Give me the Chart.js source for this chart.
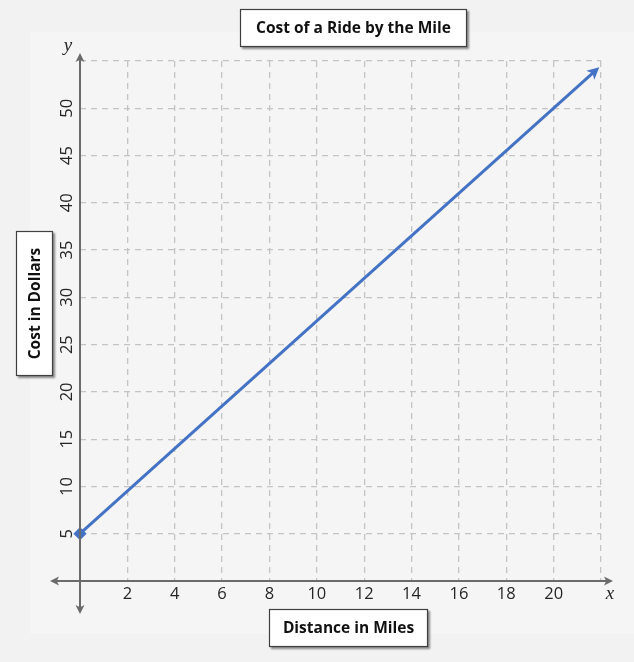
<!DOCTYPE html>
<html>
<head>
<meta charset="utf-8">
<title>Cost of a Ride by the Mile</title>
<script src="https://cdn.jsdelivr.net/npm/chart.js@4.4.0/dist/chart.umd.min.js"></script>
<style>
  body { margin: 0; background: #f2f2f2; }
  canvas { display: block; }
</style>
</head>
<body>
<canvas id="ridechart" width="634" height="662"></canvas>
<script>
// values
const distance = [0, 21.8];
const cost = [5, 54.05];
const xTicks = [2, 4, 6, 8, 10, 12, 14, 16, 18, 20];
const yTicks = [5, 10, 15, 20, 25, 30, 35, 40, 45, 50];

const chartTitle = "Cost of a Ride by the Mile";
const xTitle = "Distance in Miles";
const yTitle = "Cost in Dollars";

const axisColor = "#6b6b6b";
const lineColor = "#4472c4";

// little helper for the white label boxes with a shadow
function labelBox(ctx, x, y, w, h, text, rotate) {
  ctx.save();
  ctx.shadowColor = "rgba(0,0,0,0.45)";
  ctx.shadowOffsetX = 2;
  ctx.shadowOffsetY = 2;
  ctx.shadowBlur = 2;
  ctx.fillStyle = "#ffffff";
  ctx.fillRect(x, y, w, h);
  ctx.restore();
  ctx.save();
  ctx.strokeStyle = "#404040";
  ctx.lineWidth = 1.2;
  ctx.strokeRect(x + 0.5, y + 0.5, w - 1, h - 1);
  ctx.fillStyle = "#111111";
  ctx.font = "bold 15.5px 'Open Sans', sans-serif";
  ctx.textAlign = "center";
  ctx.textBaseline = "middle";
  ctx.translate(x + w / 2, y + h / 2);
  if (rotate) ctx.rotate(-Math.PI / 2);
  ctx.fillText(text, 0, 1);
  ctx.restore();
}

function arrowHead(ctx, x, y, angle, size, color) {
  ctx.save();
  ctx.translate(x, y);
  ctx.rotate(angle);
  ctx.fillStyle = color;
  ctx.beginPath();
  ctx.moveTo(0, 0);
  ctx.lineTo(-size, -size * 0.5);
  ctx.lineTo(-size * 0.75, 0);
  ctx.lineTo(-size, size * 0.5);
  ctx.closePath();
  ctx.fill();
  ctx.restore();
}

const background = {
  id: "background",
  beforeDraw(chart) {
    const ctx = chart.ctx;
    ctx.save();
    ctx.fillStyle = "#f2f2f2";
    ctx.fillRect(0, 0, chart.width, chart.height);
    ctx.fillStyle = "#f5f5f5";
    ctx.fillRect(30, 32, chart.width - 30, chart.height - 60);
    ctx.restore();
  },
};

const axesAndLabels = {
  id: "axesAndLabels",
  afterDatasetsDraw(chart) {
    const ctx = chart.ctx;
    const xs = chart.scales.x;
    const ys = chart.scales.y;
    const x0 = xs.getPixelForValue(0);
    const y0 = ys.getPixelForValue(0);
    const area = chart.chartArea;

    // axes with arrows at both ends
    ctx.save();
    ctx.strokeStyle = axisColor;
    ctx.lineWidth = 2;
    ctx.beginPath();
    ctx.moveTo(52, y0);
    ctx.lineTo(area.right + 10, y0);
    ctx.moveTo(x0, area.top - 6);
    ctx.lineTo(x0, 612);
    ctx.stroke();
    ctx.restore();
    arrowHead(ctx, area.right + 12, y0, 0, 9, axisColor);
    arrowHead(ctx, 50, y0, Math.PI, 9, axisColor);
    arrowHead(ctx, x0, area.top - 8, -Math.PI / 2, 9, axisColor);
    arrowHead(ctx, x0, 614, Math.PI / 2, 9, axisColor);

    // tick labels
    ctx.save();
    ctx.fillStyle = "#262626";
    ctx.font = "16.5px 'Open Sans', sans-serif";
    ctx.textAlign = "center";
    ctx.textBaseline = "middle";
    xTicks.forEach((v) => {
      ctx.fillText(String(v), xs.getPixelForValue(v), y0 + 13);
    });
    yTicks.forEach((v) => {
      ctx.save();
      ctx.translate(x0 - 13, ys.getPixelForValue(v));
      ctx.rotate(-Math.PI / 2);
      ctx.fillText(String(v), 0, 0);
      ctx.restore();
    });
    ctx.font = "italic 19px 'Liberation Serif', serif";
    ctx.fillText("y", x0 - 12, area.top - 15);
    ctx.fillText("x", area.right + 9, y0 + 13);
    ctx.restore();

    // arrow on the end of the cost line
    const pts = chart.getDatasetMeta(0).data;
    const a = pts[pts.length - 2];
    const b = pts[pts.length - 1];
    const ang = Math.atan2(b.y - a.y, b.x - a.x);
    arrowHead(ctx, b.x + Math.cos(ang) * 4, b.y + Math.sin(ang) * 4, ang, 12, lineColor);

    labelBox(ctx, 240, 9, 227, 38, chartTitle, false);
    labelBox(ctx, 269, 609, 159, 38, xTitle, false);
    labelBox(ctx, 16, 231, 37, 145, yTitle, true);
  },
};

const gridStyle = {
  color: "#c4c4c4",
  lineWidth: 1.3,
  drawTicks: false,
};

new Chart(document.getElementById("ridechart"), {
  type: "line",
  data: {
    datasets: [
      {
        data: distance.map((d, i) => ({ x: d, y: cost[i] })),
        borderColor: lineColor,
        backgroundColor: lineColor,
        borderWidth: 3,
        pointRadius: [4.5, 0],
        pointStyle: "rectRot",
        tension: 0,
        clip: false,
      },
    ],
  },
  options: {
    responsive: false,
    animation: false,
    devicePixelRatio: 1,
    layout: { padding: { left: 80, right: 33, top: 61, bottom: 81 } },
    plugins: {
      legend: { display: false },
      tooltip: { enabled: false },
      title: { display: false },
    },
    scales: {
      x: {
        type: "linear",
        min: 0,
        max: 22,
        ticks: { stepSize: 2, display: false },
        grid: gridStyle,
        border: { display: false, dash: [6, 5] },
      },
      y: {
        type: "linear",
        min: 0,
        max: 55,
        ticks: { stepSize: 5, display: false },
        grid: gridStyle,
        border: { display: false, dash: [6, 5] },
      },
    },
  },
  plugins: [background, axesAndLabels],
});
</script>
</body>
</html>
